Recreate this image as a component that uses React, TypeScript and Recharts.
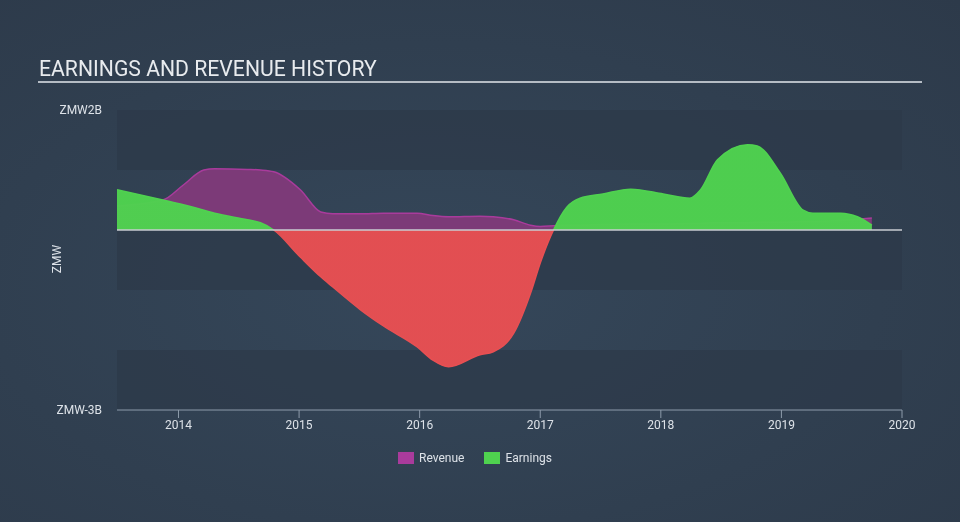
import { Area, CartesianGrid, ComposedChart, ReferenceLine, XAxis, YAxis } from 'recharts';

// fractional years
const dates = [
  2013.49, 2013.87, 2014.04, 2014.21, 2014.3, 2014.57, 2014.68, 2014.79, 2015.01, 2015.18, 2015.28, 2015.51,
  2015.7, 2015.98, 2016.11, 2016.24, 2016.5, 2016.61, 2016.78, 2016.92, 2017.0, 2017.11, 2017.22, 2017.33,
  2017.52, 2017.75, 2018.02, 2018.24, 2018.33, 2018.47, 2018.72, 2018.8, 2018.99, 2019.18, 2019.26, 2019.49,
  2019.63, 2019.75,
];

// ZMW billions
const revenue = [
  0.4, 0.5, 0.75, 1.0, 1.02, 1.01, 1.0, 0.97, 0.67, 0.3, 0.27, 0.27,
  0.28, 0.28, 0.24, 0.22, 0.23, 0.22, 0.17, 0.08, 0.06, 0.07, 0.08, 0.08,
  0.09, 0.1, 0.1, 0.11, 0.11, 0.12, 0.12, 0.13, 0.13, 0.14, 0.14, 0.16,
  0.18, 0.2,
];

const earnings = [
  0.67, 0.5, 0.42, 0.33, 0.28, 0.17, 0.12, 0, -0.45, -0.78, -0.95, -1.33,
  -1.6, -1.95, -2.17, -2.28, -2.08, -2.03, -1.72, -1.05, -0.55, 0, 0.38, 0.53,
  0.6, 0.68, 0.6, 0.53, 0.67, 1.17, 1.42, 1.4, 0.95, 0.33, 0.28, 0.28,
  0.22, 0.08,
];

const yearTicks = [2014, 2015, 2016, 2017, 2018, 2019, 2020];
const valueTicks = [-3, -2, -1, 0, 1, 2];

const data = dates.map((t, i) => ({ t, revenue: revenue[i], earnings: earnings[i] }));

const eMax = Math.max(...earnings);
const eMin = Math.min(...earnings);
const zeroOff = eMax / (eMax - eMin);

const legendItems = [
  { name: 'Revenue', color: '#a93b9c' },
  { name: 'Earnings', color: '#4fd24f' },
];

function LegendBox() {
  return (
    <div
      style={{
        position: 'absolute',
        left: 0,
        top: 451,
        width: 950,
        display: 'flex',
        justifyContent: 'center',
        gap: 20,
        fontSize: 12,
        color: '#dde2e8',
      }}
    >
      {legendItems.map((it) => (
        <div key={it.name} style={{ display: 'flex', alignItems: 'center' }}>
          <span style={{ width: 16, height: 12, background: it.color, marginRight: 5, display: 'inline-block' }} />
          {it.name}
        </div>
      ))}
    </div>
  );
}

export default function App() {
  return (
    <div
      style={{
        position: 'fixed',
        left: 0,
        top: 0,
        width: 960,
        height: 522,
        background: 'radial-gradient(ellipse at 45% 55%, #35475a 0%, #303f50 60%, #2d3a4a 100%)',
        fontFamily: 'Roboto, sans-serif',
        overflow: 'hidden',
      }}
    >
      <div style={{ position: 'absolute', left: 39, top: 56, fontSize: 21.2, color: '#e8ebee' }}>
        EARNINGS AND REVENUE HISTORY
      </div>
      <div style={{ position: 'absolute', left: 38, top: 81, width: 884, height: 2, background: '#b5bcc4' }} />
      <div
        style={{
          position: 'absolute',
          left: 57,
          top: 259,
          fontSize: 12,
          color: '#dde2e8',
          transform: 'translate(-50%, -50%) rotate(-90deg)',
        }}
      >
        ZMW
      </div>
      <ComposedChart width={960} height={522} data={data} margin={{ top: 110, right: 58, bottom: 82, left: 0 }}>
        <defs>
          <linearGradient id="earnFill" x1="0" y1="0" x2="0" y2="1">
            <stop offset={zeroOff} stopColor="#4fd24f" />
            <stop offset={zeroOff} stopColor="#e84f52" />
          </linearGradient>
        </defs>
        <CartesianGrid vertical={false} stroke="none" horizontalFill={['#2c3948', 'transparent']} fillOpacity={0.7} />
        <XAxis
          dataKey="t"
          type="number"
          domain={[2013.49, 2020]}
          ticks={yearTicks}
          allowDataOverflow
          stroke="#8d9bab"
          tickSize={8}
          tick={{ fill: '#dde2e8', fontSize: 12 }}
        />
        <YAxis
          type="number"
          domain={[-3, 2]}
          ticks={valueTicks}
          width={117}
          axisLine={false}
          tickLine={false}
          tickSize={0}
          tickMargin={15}
          tick={{ fill: '#dde2e8', fontSize: 12 }}
          tickFormatter={(v: number) => (v === 2 ? 'ZMW2B' : v === -3 ? 'ZMW-3B' : '')}
        />
        <Area
          type="monotone"
          dataKey="revenue"
          stroke="#a93b9c"
          strokeWidth={1.5}
          fill="#7c3a78"
          fillOpacity={1}
          isAnimationActive={false}
        />
        <Area
          type="monotone"
          dataKey="earnings"
          stroke="url(#earnFill)"
          strokeWidth={1.5}
          fill="url(#earnFill)"
          fillOpacity={0.97}
          isAnimationActive={false}
        />
        <ReferenceLine y={0} stroke="#c9cdd2" strokeWidth={1.5} />
      </ComposedChart>
      <LegendBox />
    </div>
  );
}
